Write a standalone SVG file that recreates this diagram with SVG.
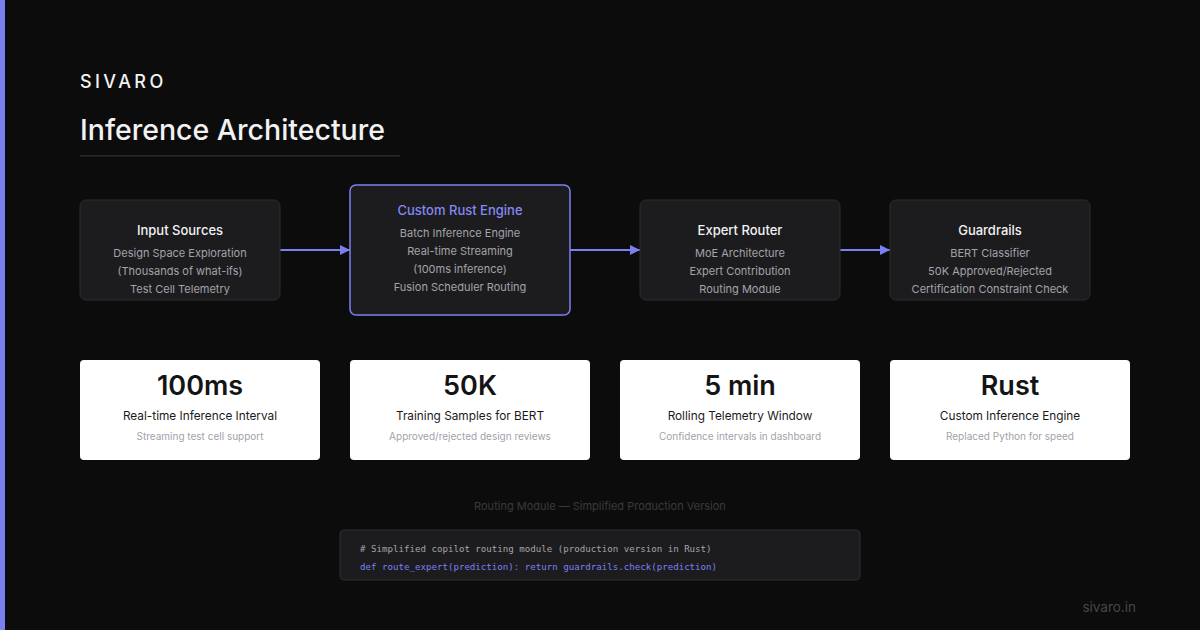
<svg xmlns="http://www.w3.org/2000/svg" width="1200" height="630" viewBox="0 0 1200 630">
  <defs>
    <marker id="arrow" viewBox="0 0 10 10" refX="10" refY="5" markerWidth="10" markerHeight="10" markerUnits="userSpaceOnUse" orient="auto">
      <path d="M0,0 L10,5 L0,10 z" fill="#7b80f0"/>
    </marker>
  </defs>
  <style>
    .sans { font-family: Inter, "Liberation Sans", sans-serif; }
    .node { fill: #1c1c1f; stroke: #2c2c30; stroke-width: 1; }
    .node-hl { fill: #1c1c1f; stroke: #7b80f0; stroke-width: 1.5; }
    .ntitle { font-size: 13px; font-weight: 500; fill: #f2f2f2; text-anchor: middle; }
    .ntitle-hl { font-size: 13px; font-weight: 500; fill: #8389f5; text-anchor: middle; }
    .nline { font-size: 11px; fill: #a3a3aa; text-anchor: middle; }
    .card { fill: #ffffff; }
    .big { font-size: 27px; font-weight: 600; fill: #141414; text-anchor: middle; }
    .label { font-size: 11.8px; fill: #1a1a1a; text-anchor: middle; }
    .sub { font-size: 10px; fill: #a2a2aa; text-anchor: middle; }
    .edge { stroke: #7b80f0; stroke-width: 2; fill: none; }
    .mono { font-family: "DejaVu Sans Mono", "Liberation Mono", monospace; font-size: 9.15px; }
  </style>

  <!-- background and accent bar -->
  <rect x="0" y="0" width="1200" height="630" fill="#0c0c0d"/>
  <rect x="0" y="0" width="5" height="630" fill="#7b80f0"/>

  <!-- header -->
  <text x="80" y="88" class="sans" font-size="18" font-weight="500" letter-spacing="3.4" fill="#f2f2f2">SIVARO</text>
  <text x="80" y="140" class="sans" font-size="28.5" font-weight="500" fill="#f2f2f2">Inference Architecture</text>
  <rect x="80" y="155" width="320" height="1.5" fill="#2a2a2c"/>

  <!-- connectors -->
  <g id="connectors">
    <line class="edge" x1="280" y1="250" x2="350" y2="250" marker-end="url(#arrow)"/>
    <line class="edge" x1="570" y1="250" x2="640" y2="250" marker-end="url(#arrow)"/>
    <line class="edge" x1="820" y1="250" x2="890" y2="250" marker-end="url(#arrow)"/>
  </g>

  <!-- pipeline nodes -->
  <g id="input-sources" class="sans">
    <rect class="node" x="80" y="200" width="200" height="100" rx="6"/>
    <text class="ntitle" x="180" y="235">Input Sources</text>
    <text class="nline" x="180" y="257">Design Space Exploration</text>
    <text class="nline" x="180" y="275">(Thousands of what-ifs)</text>
    <text class="nline" x="180" y="293">Test Cell Telemetry</text>
  </g>

  <g id="rust-engine" class="sans">
    <rect class="node-hl" x="350" y="185" width="220" height="130" rx="6"/>
    <text class="ntitle-hl" x="460" y="215">Custom Rust Engine</text>
    <text class="nline" x="460" y="237">Batch Inference Engine</text>
    <text class="nline" x="460" y="255">Real-time Streaming</text>
    <text class="nline" x="460" y="273">(100ms inference)</text>
    <text class="nline" x="460" y="291">Fusion Scheduler Routing</text>
  </g>

  <g id="expert-router" class="sans">
    <rect class="node" x="640" y="200" width="200" height="100" rx="6"/>
    <text class="ntitle" x="740" y="235">Expert Router</text>
    <text class="nline" x="740" y="257">MoE Architecture</text>
    <text class="nline" x="740" y="275">Expert Contribution</text>
    <text class="nline" x="740" y="293">Routing Module</text>
  </g>

  <g id="guardrails" class="sans">
    <rect class="node" x="890" y="200" width="200" height="100" rx="6"/>
    <text class="ntitle" x="990" y="235">Guardrails</text>
    <text class="nline" x="990" y="257">BERT Classifier</text>
    <text class="nline" x="990" y="275">50K Approved/Rejected</text>
    <text class="nline" x="990" y="293">Certification Constraint Check</text>
  </g>

  <!-- stat cards -->
  <g id="stat-latency" class="sans">
    <rect class="card" x="80" y="360" width="240" height="100" rx="4"/>
    <text class="big" x="200" y="395">100ms</text>
    <text class="label" x="200" y="420">Real-time Inference Interval</text>
    <text class="sub" x="200" y="440">Streaming test cell support</text>
  </g>
  <g id="stat-samples" class="sans">
    <rect class="card" x="350" y="360" width="240" height="100" rx="4"/>
    <text class="big" x="470" y="395">50K</text>
    <text class="label" x="470" y="420">Training Samples for BERT</text>
    <text class="sub" x="470" y="440">Approved/rejected design reviews</text>
  </g>
  <g id="stat-window" class="sans">
    <rect class="card" x="620" y="360" width="240" height="100" rx="4"/>
    <text class="big" x="740" y="395">5 min</text>
    <text class="label" x="740" y="420">Rolling Telemetry Window</text>
    <text class="sub" x="740" y="440">Confidence intervals in dashboard</text>
  </g>
  <g id="stat-engine" class="sans">
    <rect class="card" x="890" y="360" width="240" height="100" rx="4"/>
    <text class="big" x="1010" y="395">Rust</text>
    <text class="label" x="1010" y="420">Custom Inference Engine</text>
    <text class="sub" x="1010" y="440">Replaced Python for speed</text>
  </g>

  <!-- code sample -->
  <text class="sans" x="600" y="510" font-size="11" fill="#3a3a3d" text-anchor="middle">Routing Module — Simplified Production Version</text>
  <g id="code-sample">
    <rect x="340" y="530" width="520" height="50" rx="4" fill="#1c1c1f" stroke="#2e2e32" stroke-width="1"/>
    <text class="mono" x="360" y="552" fill="#a3a3aa"># Simplified copilot routing module (production version in Rust)</text>
    <text class="mono" x="360" y="570" fill="#7b80f0">def route_expert(prediction): return guardrails.check(prediction)</text>
  </g>

  <!-- footer -->
  <text class="sans" x="1136" y="612" font-size="13.5" fill="#46464a" text-anchor="end">sivaro.in</text>
</svg>
